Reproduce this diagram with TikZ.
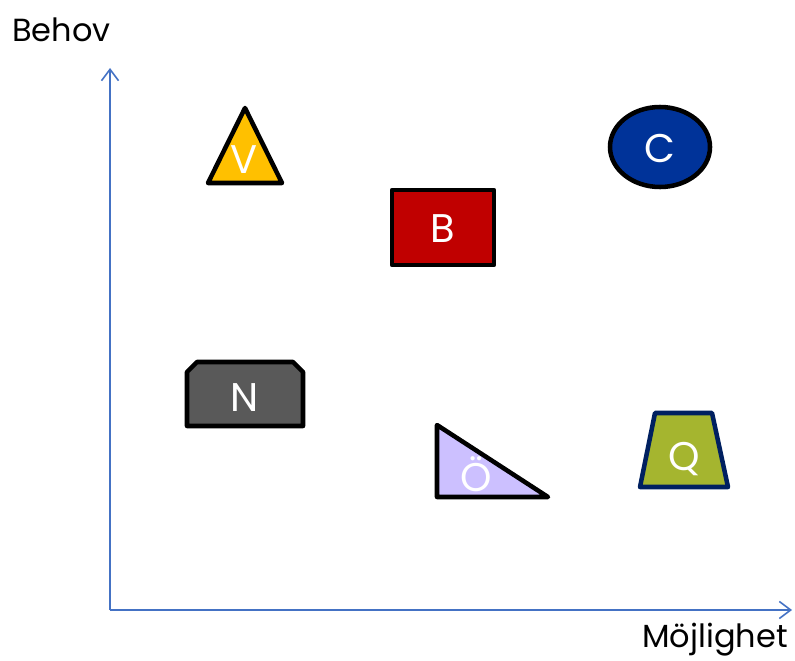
\documentclass[tikz,border=0pt]{standalone}
\usepackage{fontspec}
\setmainfont{Poppins}
\usetikzlibrary{arrows.meta}
\definecolor{axblue}{HTML}{4472C4}
\definecolor{vyel}{HTML}{FFC000}
\definecolor{bred}{HTML}{C00000}
\definecolor{cblue}{HTML}{003399}
\definecolor{ngrey}{HTML}{595959}
\definecolor{olil}{HTML}{CCC0FF}
\definecolor{qgreen}{HTML}{A5B52F}
\definecolor{qnavy}{HTML}{002060}
\begin{document}
\begin{tikzpicture}[x=0.75pt,y=-0.75pt,
  sh/.style={draw=black,line width=3.4pt,line join=round},
  lbl/.style={text=white,inner sep=0pt,font=\fontsize{30}{30}\selectfont},
  axl/.style={inner sep=0pt,font=\fontsize{24}{24}\selectfont},
  ax/.style={draw=axblue,line width=1.2pt,-{Straight Barb[length=3mm,width=4.5mm]}}]
\useasboundingbox (0,0) rectangle (795,660);
% axes
\coordinate (o) at (110,610);\coordinate (ytop) at (110,68);\coordinate (xend) at (792,610);
\draw[ax] (o)--(ytop);\draw[ax] (o)--(xend);
\node[axl,anchor=base west] (behov) at (12,42) {Behov};
\node[axl,anchor=base east] (mojl) at (788,647) {Möjlighet};
% shapes
\draw[sh,fill=vyel] (245,108)--(282,183)--(208,183)--cycle;
\node[lbl] (v) at (244,160) {V};
\draw[sh,fill=bred] (392,190) rectangle (494,265);
\node[lbl] (b) at (443,229) {B};
\draw[sh,fill=cblue] (660,147) ellipse (50 and 40);
\node[lbl] (c) at (660,148) {C};
\draw[sh,fill=ngrey] (187,426)--(187,372)--(197,362)--(293,362)--(303,372)--(303,426)--cycle;
\node[lbl] (n) at (245,398) {N};
\draw[sh,fill=olil] (437,425)--(548,497)--(437,497)--cycle;
\node[lbl] (oe) at (476,474) {Ö};
\draw[sh,draw=qnavy,fill=qgreen] (655,413)--(712,413)--(728,487)--(640,487)--cycle;
\node[lbl] (q) at (684,459) {Q};
\end{tikzpicture}
\end{document}
